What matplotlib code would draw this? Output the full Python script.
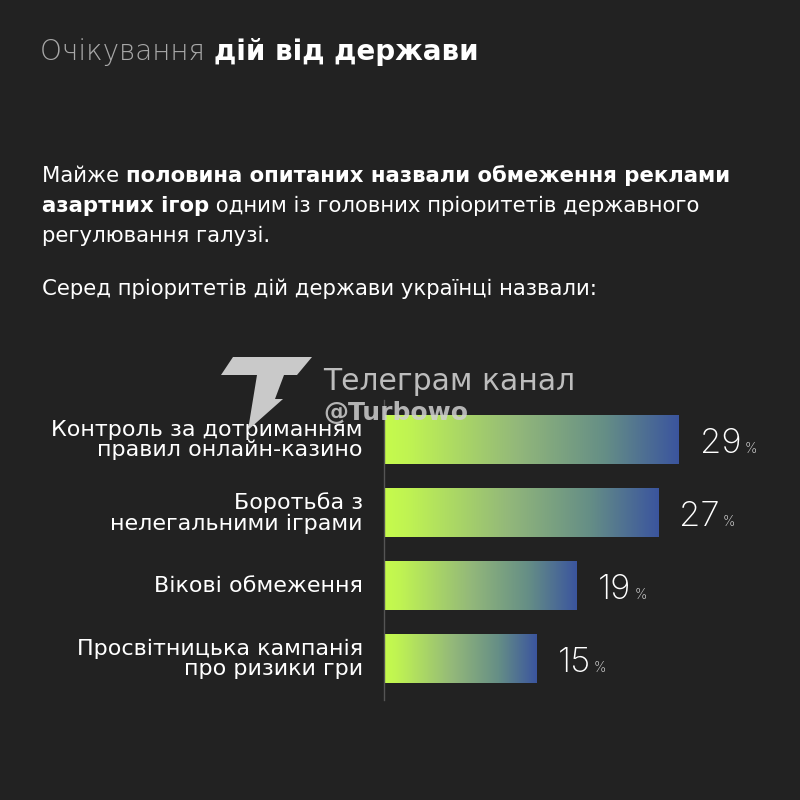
import numpy as np
import matplotlib
matplotlib.use('Agg')
import matplotlib.pyplot as plt
from matplotlib.colors import LinearSegmentedColormap
from matplotlib.patches import Polygon

# data
categories = ['Контроль за дотриманням\nправил онлайн-казино',
              'Боротьба з\nнелегальними іграми',
              'Вікові обмеження',
              'Просвітницька кампанія\nпро ризики гри']
values = [29, 27, 19, 15]

title_light = 'Очікування '
title_bold = 'дій від держави'
para_lines = [
    [('Майже ', 'normal'), ('половина опитаних назвали обмеження реклами', 'bold')],
    [('азартних ігор', 'bold'), (' одним із головних пріоритетів державного', 'normal')],
    [('регулювання галузі.', 'normal')],
]
para_last = 'Серед пріоритетів дій держави українці назвали:'
wm_line1 = 'Телеграм канал'
wm_line2 = '@Turbowo'

bg = '#222222'
W = H = 800

fig = plt.figure(figsize=(8, 8), dpi=100, facecolor=bg)
renderer = fig.canvas.get_renderer()

def fx(x): return x / W
def fy(y): return 1 - y / H

def runs(x, y, parts, size, family, colors=None):
    for i, (s, w) in enumerate(parts):
        c = colors[i] if colors else 'white'
        t = fig.text(fx(x), fy(y), s, fontsize=size, fontweight=w, family=family,
                     color=c, va='baseline', ha='left')
        bb = t.get_window_extent(renderer)
        x = bb.x1

# title
runs(40, 60, [(title_light, 'light'), (title_bold, 'bold')], 20, 'DejaVu Sans',
     colors=['#a8a8a8', 'white'])

# paragraph
pfam = 'DejaVu Sans'
for i, parts in enumerate(para_lines):
    runs(42, 182 + i * 30, parts, 15.3, pfam, colors=['white'] * len(parts))
fig.text(fx(42), fy(295), para_last, fontsize=15.3, family=pfam, color='white', va='baseline')

# bars
ax = fig.add_axes([fx(384), fy(700), 420 / W, 300 / H])
ax.set_facecolor('none')
for s in ['top', 'right', 'bottom']:
    ax.spines[s].set_visible(False)
ax.spines['left'].set_color('#555555')
ax.spines['left'].set_linewidth(1)
ax.set_xticks([])
ax.set_yticks([])

cmap = LinearSegmentedColormap.from_list('g', [(0, '#c6fc4c'), (0.08, '#c0f452'),
                                               (0.45, '#93b87a'), (0.75, '#658e86'),
                                               (1, '#3b559e')])
grad = np.linspace(0, 1, 256).reshape(1, -1)
h = 0.66
for i, (cat, v) in enumerate(zip(categories, values)):
    ax.imshow(grad, extent=[0, v, i + h / 2, i - h / 2], aspect='auto', cmap=cmap,
              interpolation='bilinear', zorder=2)
ax.set_xlim(0, 420 / 10.15)
ax.set_ylim(3.56, -0.55)

for i, (cat, v) in enumerate(zip(categories, values)):
    t = ax.text(v + 2.1, i + 0.17, str(v), fontsize=25, fontweight='light', family='Inter',
                color='white', va='baseline', ha='left')
    bb = t.get_window_extent(renderer)
    xd = ax.transData.inverted().transform((bb.x1 + 3, 0))[0]
    ax.text(xd, i + 0.17, '%', fontsize=10, family='Inter', fontweight='light',
            color='#dddddd', va='baseline', ha='left')
    ax.text(-2.1, i, cat, fontsize=16, family='DejaVu Sans', color='white',
            ha='right', va='center', linespacing=1.0)

# watermark
pts = [(233, 357), (312, 357), (297, 375), (284, 375), (275, 399), (283, 399),
       (248, 430), (257, 375), (221, 375)]
logo = Polygon([(fx(a), fy(b)) for a, b in pts], closed=True, transform=fig.transFigure,
               facecolor='#c9c9c9', edgecolor='none', zorder=5)
fig.patches.append(logo)
fig.text(fx(323), fy(390), wm_line1, fontsize=21.5, family='DejaVu Sans', color='#bdbdbd',
         va='baseline', zorder=6)
fig.text(fx(323), fy(420), wm_line2, fontsize=18, family='DejaVu Sans', fontweight='bold',
         color='#cfcfcf', alpha=0.85, va='baseline', zorder=6)

fig.savefig('out.png', dpi=100, facecolor=bg)
